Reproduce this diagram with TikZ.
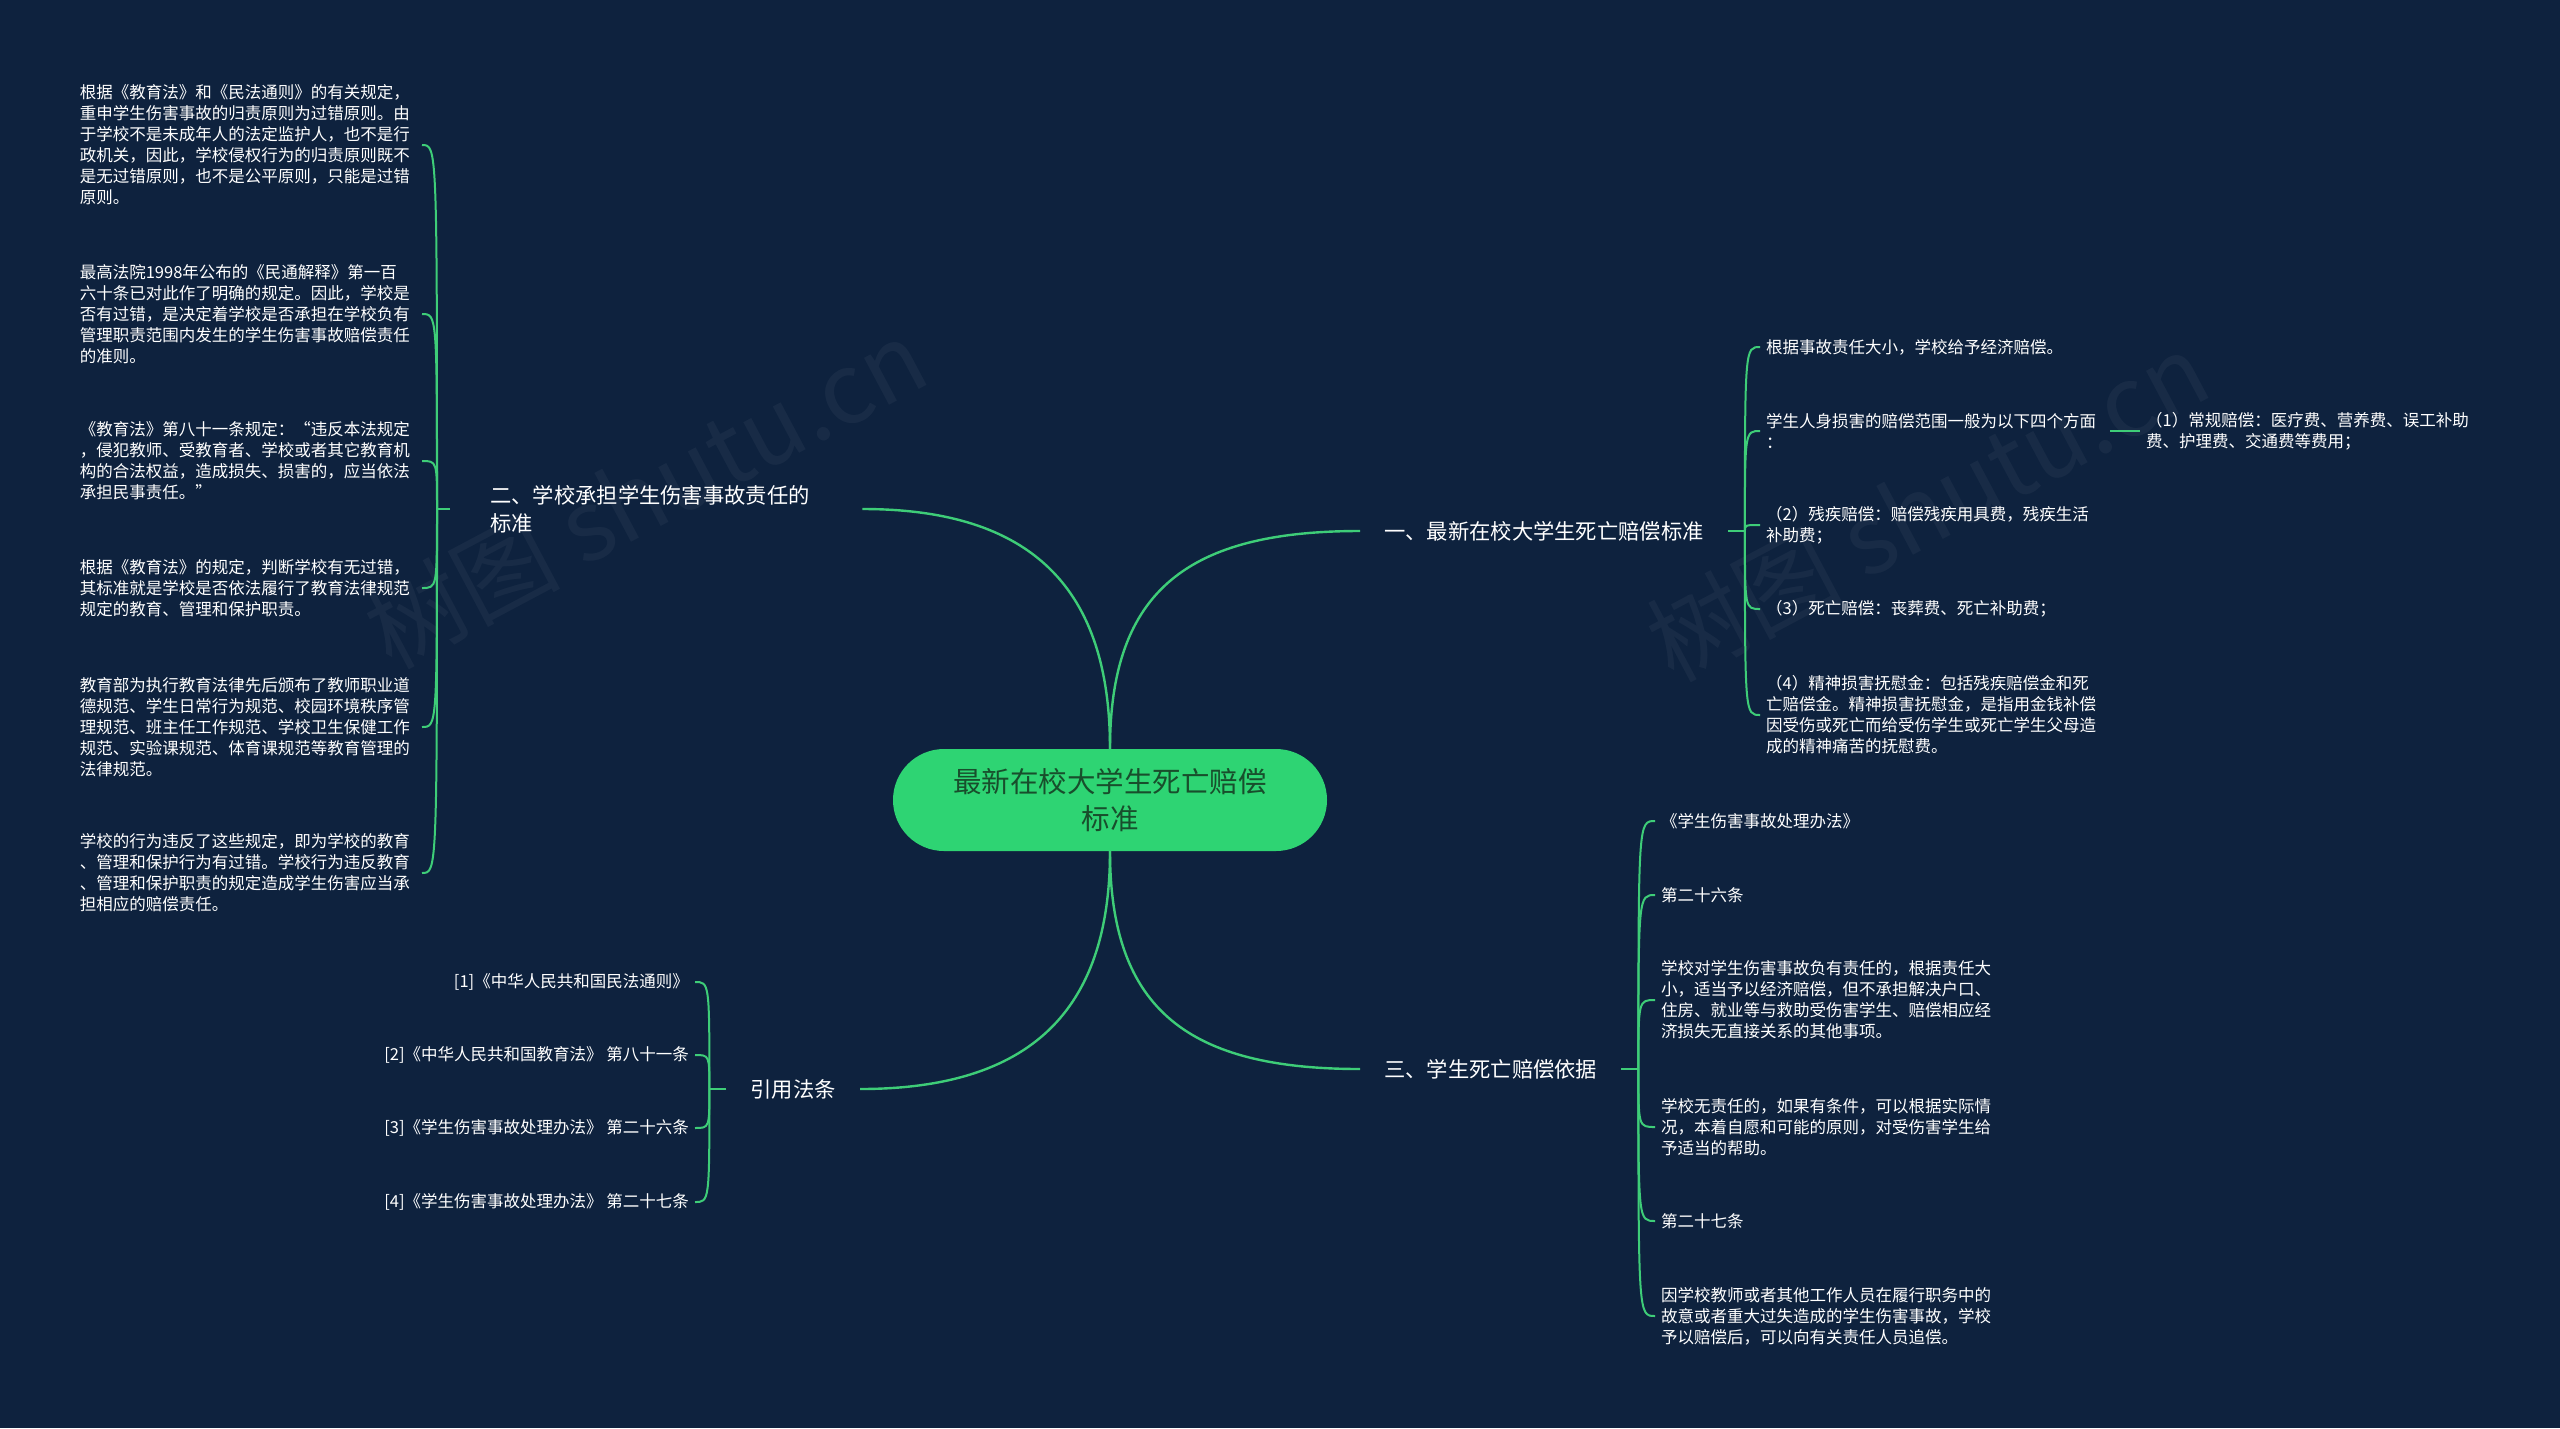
\documentclass[tikz,border=0pt]{standalone}
\usepackage{fontspec}
\setmainfont{Noto Sans CJK SC}
\definecolor{bgnavy}{RGB}{14,34,62}
\definecolor{linegreen}{RGB}{62,205,120}
\definecolor{rootgreen}{RGB}{46,212,115}
\definecolor{roottext}{RGB}{24,78,44}

\tikzset{
  rootnode/.style={fill=rootgreen, rounded corners=51pt, minimum width=434pt, minimum height=102pt,
    text=roottext, align=center, inner sep=0pt, font=\fontsize{28.5}{37}\selectfont},
  branchnode/.style={text=white, align=left, inner xsep=24pt, inner ysep=4pt, font=\fontsize{21.3}{28}\selectfont},
  leafnode/.style={text=white, align=left, inner xsep=6pt, inner ysep=3pt, font=\fontsize{16.5}{21}\selectfont},
  conn/.style={draw=linegreen, line width=2.4pt},
  kidconn/.style={draw=linegreen, line width=2pt},
  wmark/.style={text=white, opacity=0.045, rotate=28, font=\fontsize{98}{98}\selectfont}
}

\begin{document}
\begin{tikzpicture}[x=1pt, y=-1pt]
  \useasboundingbox (0,0) rectangle (2560,1428);
  \fill[bgnavy] (0,0) rectangle (2560,1428);

  \node[wmark] (wm1) at (645,493) {树图 shutu.cn};
  \node[wmark] (wm2) at (1927,506) {树图 shutu.cn};

  \node[rootnode] (root) at (1110,800) {最新在校大学生死亡赔偿\\标准};

  \node[branchnode, anchor=west] (b1) at (1360,531) {一、最新在校大学生死亡赔偿标准};
  \node[branchnode, anchor=west, inner xsep=40pt, text width=332pt] (b2) at (450,509) {二、学校承担学生伤害事故责任的\\标准};
  \node[branchnode, anchor=west] (b3) at (1360,1069) {三、学生死亡赔偿依据};
  \node[branchnode, anchor=east] (b4) at (860,1089) {引用法条};

  \coordinate (j1) at ([xshift=17pt]b1.east);
  \coordinate (j2) at ([xshift=-13pt]b2.west);
  \coordinate (j3) at ([xshift=17pt]b3.east);
  \coordinate (j4) at ([xshift=-17pt]b4.west);

  \draw[conn] (root.north) .. controls +(0,-160) and +(-170,0) .. (b1.west);
  \draw[conn] (root.north) .. controls +(0,-160) and +(170,0) .. (b2.east);
  \draw[conn] (root.south) .. controls +(0,160) and +(-170,0) .. (b3.west);
  \draw[conn] (root.south) .. controls +(0,160) and +(170,0) .. (b4.east);
  \draw[conn] (b1.east) -- (j1);
  \draw[conn] (b2.west) -- (j2);
  \draw[conn] (b3.east) -- (j3);
  \draw[conn] (b4.west) -- (j4);

  % left column
  \node[leafnode, anchor=east, text width=336pt] (k21) at (422,145) {根据《教育法》和《民法通则》的有关规定，\\重申学生伤害事故的归责原则为过错原则。由\\于学校不是未成年人的法定监护人，也不是行\\政机关，因此，学校侵权行为的归责原则既不\\是无过错原则，也不是公平原则，只能是过错\\原则。};
  \node[leafnode, anchor=east, text width=336pt] (k22) at (422,314) {最高法院1998年公布的《民通解释》第一百\\六十条已对此作了明确的规定。因此，学校是\\否有过错，是决定着学校是否承担在学校负有\\管理职责范围内发生的学生伤害事故赔偿责任\\的准则。};
  \node[leafnode, anchor=east, text width=336pt] (k23) at (422,461) {《教育法》第八十一条规定：“违反本法规定\\，侵犯教师、受教育者、学校或者其它教育机\\构的合法权益，造成损失、损害的，应当依法\\承担民事责任。”};
  \node[leafnode, anchor=east, text width=336pt] (k24) at (422,588) {根据《教育法》的规定，判断学校有无过错，\\其标准就是学校是否依法履行了教育法律规范\\规定的教育、管理和保护职责。};
  \node[leafnode, anchor=east, text width=336pt] (k25) at (422,727) {教育部为执行教育法律先后颁布了教师职业道\\德规范、学生日常行为规范、校园环境秩序管\\理规范、班主任工作规范、学校卫生保健工作\\规范、实验课规范、体育课规范等教育管理的\\法律规范。};
  \node[leafnode, anchor=east, text width=336pt] (k26) at (422,873) {学校的行为违反了这些规定，即为学校的教育\\、管理和保护行为有过错。学校行为违反教育\\、管理和保护职责的规定造成学生伤害应当承\\担相应的赔偿责任。};

  \node[leafnode, anchor=east, align=right] (k41) at (695,982) {[1]《中华人民共和国民法通则》};
  \node[leafnode, anchor=east, align=right] (k42) at (695,1055) {[2]《中华人民共和国教育法》 第八十一条};
  \node[leafnode, anchor=east, align=right] (k43) at (695,1128) {[3]《学生伤害事故处理办法》 第二十六条};
  \node[leafnode, anchor=east, align=right] (k44) at (695,1202) {[4]《学生伤害事故处理办法》 第二十七条};

  % right column
  \node[leafnode, anchor=west] (k11) at (1760,347) {根据事故责任大小，学校给予经济赔偿。};
  \node[leafnode, anchor=west] (k12) at (1760,431) {学生人身损害的赔偿范围一般为以下四个方面\\：};
  \node[leafnode, anchor=west] (k12a) at (2140,431) {（1）常规赔偿：医疗费、营养费、误工补助\\费、护理费、交通费等费用；};
  \node[leafnode, anchor=west] (k13) at (1760,525) {（2）残疾赔偿：赔偿残疾用具费，残疾生活\\补助费；};
  \node[leafnode, anchor=west] (k14) at (1760,609) {（3）死亡赔偿：丧葬费、死亡补助费；};
  \node[leafnode, anchor=west] (k15) at (1760,715) {（4）精神损害抚慰金：包括残疾赔偿金和死\\亡赔偿金。精神损害抚慰金，是指用金钱补偿\\因受伤或死亡而给受伤学生或死亡学生父母造\\成的精神痛苦的抚慰费。};

  \node[leafnode, anchor=west] (k31) at (1655,821) {《学生伤害事故处理办法》};
  \node[leafnode, anchor=west] (k32) at (1655,895) {第二十六条};
  \node[leafnode, anchor=west] (k33) at (1655,1000) {学校对学生伤害事故负有责任的，根据责任大\\小，适当予以经济赔偿，但不承担解决户口、\\住房、就业等与救助受伤害学生、赔偿相应经\\济损失无直接关系的其他事项。};
  \node[leafnode, anchor=west] (k34) at (1655,1127) {学校无责任的，如果有条件，可以根据实际情\\况，本着自愿和可能的原则，对受伤害学生给\\予适当的帮助。};
  \node[leafnode, anchor=west] (k35) at (1655,1221) {第二十七条};
  \node[leafnode, anchor=west] (k36) at (1655,1316) {因学校教师或者其他工作人员在履行职务中的\\故意或者重大过失造成的学生伤害事故，学校\\予以赔偿后，可以向有关责任人员追偿。};

  \foreach \kid in {k11,k12,k13,k14,k15}
    \draw[kidconn] (j1) .. controls (j1 |- \kid.west) .. (\kid.west);
  \foreach \kid in {k21,k22,k23,k24,k25,k26}
    \draw[kidconn] (j2) .. controls (j2 |- \kid.east) .. (\kid.east);
  \foreach \kid in {k31,k32,k33,k34,k35,k36}
    \draw[kidconn] (j3) .. controls (j3 |- \kid.west) .. (\kid.west);
  \foreach \kid in {k41,k42,k43,k44}
    \draw[kidconn] (j4) .. controls (j4 |- \kid.east) .. (\kid.east);
  \draw[kidconn] ([xshift=8pt]k12.east) -- (k12a.west);
\end{tikzpicture}
\end{document}
